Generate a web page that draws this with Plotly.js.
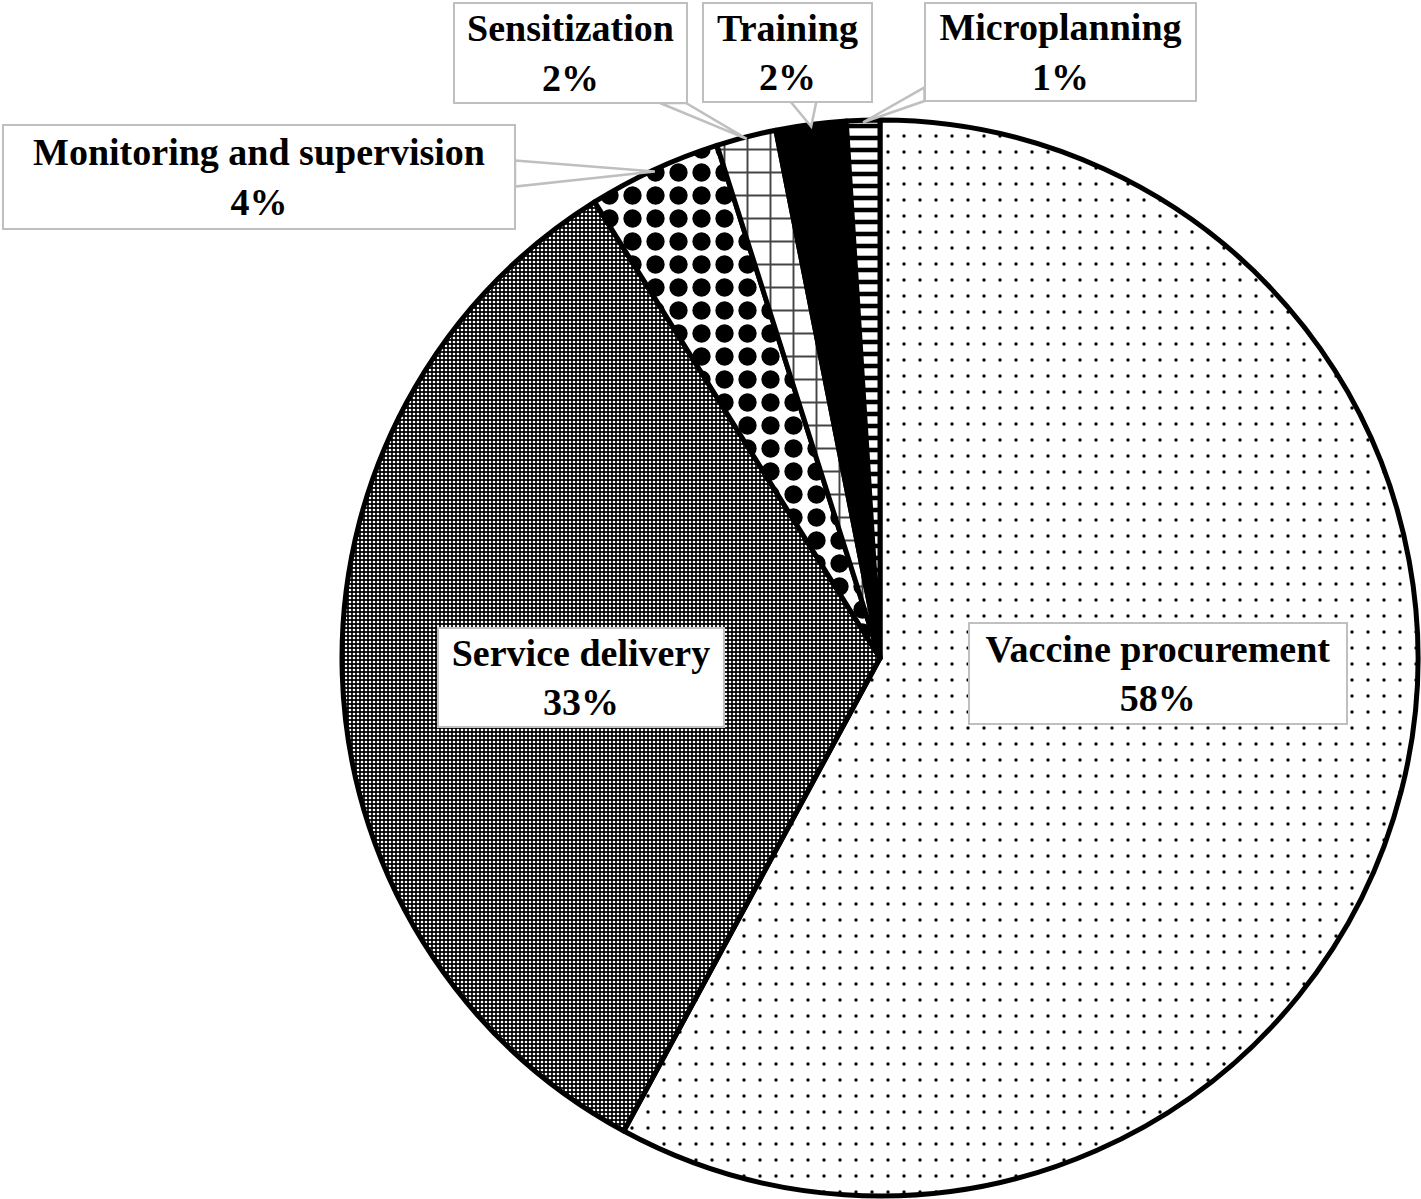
<!DOCTYPE html>
<html>
<head>
<meta charset="utf-8">
<script src="https://cdn.plot.ly/plotly-3.0.1.min.js"></script>
<style>html,body{margin:0;padding:0;background:#fff;}#chart{width:1421px;height:1199px;}</style>
</head>
<body>
<div id="chart"></div>
<script>
// ---- data ----
const labels = ['Vaccine procurement', 'Service delivery', 'Monitoring and supervision', 'Sensitization', 'Training', 'Microplanning'];
const values = [57.9, 33.2, 4.0, 1.8, 2.1, 1.0];

// ---- styles ----
const patterns = [
  {shape: '.', fgcolor: '#000', bgcolor: '#fff', size: 16, solidity: 0.035},
  {shape: '.', fgcolor: '#fff', bgcolor: '#000', size: 4, solidity: 0.35},
  {shape: '.', fgcolor: '#000', bgcolor: '#fff', size: 23, solidity: 0.5},
  {shape: '+', fgcolor: '#444', bgcolor: '#fff', size: 23, solidity: 0.16},
  {shape: '', fgcolor: '#000', bgcolor: '#000', size: 8, solidity: 0.5},
  {shape: '-', fgcolor: '#000', bgcolor: '#fff', size: 12, solidity: 0.38}
];
const colors = ['#fff', '#333', '#fff', '#fff', '#000', '#fff'];

// label box layout (pixel centre, width, height) and whether label sits outside with a callout
const boxes = [
  {cx: 1158, cy: 673, w: 380, h: 103, outside: false},
  {cx: 581, cy: 677, w: 288, h: 101, outside: false},
  {cx: 259, cy: 177, w: 514, h: 106, outside: true},
  {cx: 570, cy: 53, w: 235, h: 102, outside: true},
  {cx: 788, cy: 52, w: 171, h: 101, outside: true},
  {cx: 1060, cy: 52, w: 273, h: 100, outside: true}
];

const W = 1421, H = 1199;
const pcx = 880, pcy = 658, R = 538;
const domX = [(pcx - R) / W, (pcx + R) / W];
const domY = [1 - (pcy + R) / H, 1 - (pcy - R) / H];
const px2x = x => x / W;
const px2y = y => 1 - y / H;

const total = values.reduce((a, b) => a + b, 0);
const pct = values.map(v => Math.round(v / total * 100) + '%');

const fontSpec = {family: 'Liberation Serif, Times New Roman, serif', size: 38, color: '#000'};
const bw = 2, pad = 0;
const grey = '#bfbfbf';

const annotations = [];
const shapes = [];
let cum = 0;
values.forEach((v, i) => {
  const mid = (cum + v / 2) / total;
  cum += v;
  const ang = mid * 2 * Math.PI; // clockwise from 12 o'clock
  const tipX = pcx + (R - 2) * Math.sin(ang);
  const tipY = pcy - (R - 2) * Math.cos(ang);
  const b = boxes[i];
  annotations.push({
    text: '<b>' + labels[i] + '<br>' + pct[i] + '</b>',
    font: fontSpec,
    bgcolor: '#fff',
    bordercolor: grey,
    borderwidth: bw,
    borderpad: pad,
    width: b.w - 2 * (bw + pad),
    height: b.h - 2 * (bw + pad),
    align: 'center',
    valign: 'middle',
    xref: 'paper', yref: 'paper',
    xanchor: 'center', yanchor: 'middle',
    x: px2x(b.cx), y: px2y(b.cy),
    showarrow: false
  });
  if (b.outside) {
    // callout wedge from the box edge to the slice rim
    const dx = tipX - b.cx, dy = tipY - b.cy;
    const hw = b.w / 2 - 1, hh = b.h / 2 - 1;
    const t = Math.min(Math.abs(dx) > 0 ? hw / Math.abs(dx) : Infinity, Math.abs(dy) > 0 ? hh / Math.abs(dy) : Infinity);
    const ex = b.cx + dx * t, ey = b.cy + dy * t;
    const half = 13;
    let p1, p2;
    if (Math.abs(Math.abs(ex - b.cx) - hw) < 0.5) { // exits through a vertical edge
      p1 = [ex, Math.max(b.cy - hh, ey - half)];
      p2 = [ex, Math.min(b.cy + hh, ey + half)];
    } else {
      p1 = [Math.max(b.cx - hw, ex - half), ey];
      p2 = [Math.min(b.cx + hw, ex + half), ey];
    }
    shapes.push({
      type: 'path', xref: 'paper', yref: 'paper', layer: 'above',
      path: 'M' + px2x(p1[0]) + ',' + px2y(p1[1]) + ' L' + px2x(tipX) + ',' + px2y(tipY) +
            ' L' + px2x(p2[0]) + ',' + px2y(p2[1]) + ' Z',
      fillcolor: '#fff',
      line: {color: grey, width: 2.5}
    });
  }
});

const trace = {
  type: 'pie',
  labels: labels,
  values: values,
  sort: false,
  direction: 'clockwise',
  rotation: 0,
  textinfo: 'none',
  textposition: 'none',
  hoverinfo: 'none',
  showlegend: false,
  domain: {x: domX, y: domY},
  marker: {
    colors: colors,
    pattern: {
      shape: patterns.map(p => p.shape),
      fgcolor: patterns.map(p => p.fgcolor),
      bgcolor: patterns.map(p => p.bgcolor),
      size: patterns.map(p => p.size),
      solidity: patterns.map(p => p.solidity),
      fillmode: 'replace'
    },
    line: {color: '#000', width: 5}
  }
};

const layout = {
  width: W, height: H,
  margin: {l: 0, r: 0, t: 0, b: 0},
  paper_bgcolor: '#fff',
  plot_bgcolor: '#fff',
  showlegend: false,
  shapes: shapes,
  annotations: annotations
};

Plotly.newPlot('chart', [trace], layout, {staticPlot: true, displayModeBar: false});
</script>
</body>
</html>
